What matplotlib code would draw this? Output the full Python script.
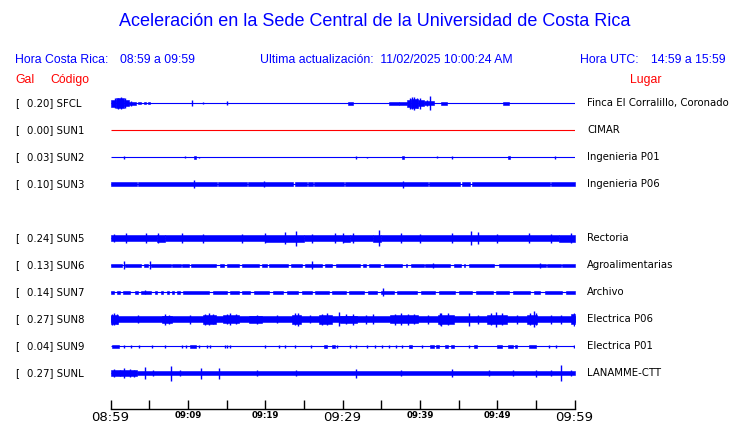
import matplotlib
matplotlib.use('Agg')
import matplotlib.pyplot as plt
from matplotlib.transforms import blended_transform_factory

# estaciones (fila 4 = SUN4 sin datos, queda vacia)
codes = ['SFCL', 'SUN1', 'SUN2', 'SUN3', 'SUN5', 'SUN6', 'SUN7', 'SUN8', 'SUN9', 'SUNL']
rows = [0, 1, 2, 3, 5, 6, 7, 8, 9, 10]
gal = [0.20, 0.00, 0.03, 0.10, 0.24, 0.13, 0.14, 0.27, 0.04, 0.27]
places = ['Finca El Corralillo, Coronado', 'CIMAR', 'Ingenieria P01', 'Ingenieria P06',
          'Rectoria', 'Agroalimentarias', 'Archivo', 'Electrica P06', 'Electrica P01',
          'LANAMME-CTT']

# tramos de señal: (minuto inicio, minuto fin, semi-amplitud)
segs = {
    'SFCL': [(0, 0.7, 3.5), (0.7, 1.7, 5), (1.7, 2.4, 3), (2.4, 3.3, 1.5), (3.5, 4.0, 1),
             (4.3, 4.6, 1), (4.8, 5.1, 1), (30.7, 31.3, 1.5), (36.0, 37.3, 1.2),
             (37.3, 38.4, 1.5), (38.4, 38.9, 3.5), (38.9, 39.8, 4.5), (39.8, 40.5, 3),
             (40.5, 41.8, 2), (42.7, 43.5, 1.5), (50.7, 51.5, 1.5)],
    'SUN1': [],
    'SUN2': [(10.8, 11.1, 1.5), (37.7, 38.0, 1.5), (51.4, 51.7, 1.2)],
    'SUN3': [(0, 3.45, 2), (3.6, 13.75, 2), (13.9, 17.65, 2), (17.8, 23.65, 2), (23.8, 25.45, 2),
             (25.6, 26.15, 2), (26.3, 30.15, 2), (30.3, 41.05, 2), (41.2, 45.25, 2),
             (45.4, 46.55, 2), (46.7, 56.85, 2), (57.0, 60, 2)],
    'SUN5': [(0, 6, 3), (6, 7, 3.5), (7, 20, 3), (20, 25, 3.5), (25, 30, 3), (30, 31, 3.5),
             (31, 34, 3), (34, 35, 3.5), (35, 58, 3), (58, 60, 3.5)],
    'SUN6': [(0, 1.5, 1.5), (1.9, 4.0, 1.5), (4.3, 4.9, 1.5), (5.3, 7.8, 1.5), (8.0, 9.1, 1.5),
             (9.3, 10.1, 1.5), (10.4, 13.6, 1.5), (14.2, 14.7, 1.5), (15.1, 16.6, 1.5),
             (17.0, 19.2, 1.5), (19.6, 20.3, 1.5), (20.5, 22.9, 1.5), (23.3, 24.8, 1.5),
             (25.2, 27.4, 1.5), (27.8, 28.7, 1.5), (29.1, 32.3, 1.5), (32.6, 33.0, 1.5),
             (33.4, 34.9, 1.5), (35.4, 37.7, 1.5), (38.2, 38.4, 1.5), (38.8, 40.5, 1.5),
             (40.7, 43.9, 1.5), (44.4, 45.3, 1.5), (45.7, 45.9, 1.5), (46.3, 49.6, 1.5),
             (50.2, 56.3, 1.5), (56.5, 58.2, 1.5), (58.4, 60, 1.5)],
    'SUN7': [(0, 0.5, 1.5), (0.9, 1.2, 1.5), (1.6, 2.5, 1.5), (3.2, 3.5, 1.5), (3.9, 5.2, 1.5),
             (5.8, 6.0, 1.5), (6.5, 6.8, 1.5), (7.3, 7.5, 1.5), (7.9, 8.2, 1.5), (8.6, 9.0, 1.5),
             (9.4, 12.8, 1.5), (13.2, 15.0, 1.5), (15.5, 16.6, 1.5), (17.0, 18.0, 1.5),
             (18.5, 20.5, 1.5), (21.0, 22.3, 1.5), (22.8, 24.2, 1.5), (24.7, 26.0, 1.5),
             (26.5, 28.2, 1.5), (28.7, 30.4, 1.5), (30.9, 32.8, 1.5), (33.3, 34.5, 1.5),
             (35.0, 36.6, 1.5), (37.1, 39.6, 1.5), (40.1, 42.0, 1.5), (42.5, 44.6, 1.5),
             (45.1, 46.7, 1.5), (47.2, 49.4, 1.5), (49.9, 51.5, 1.5), (52.0, 54.2, 1.5),
             (54.8, 55.6, 1.5), (56.2, 58.4, 1.5), (58.9, 60, 1.5)],
    'SUN8': [(0, 60, 3), (0, 1, 4.5), (6.7, 8.0, 3.8), (11.9, 13.6, 4.2), (14.5, 16.6, 4),
             (17.9, 19.6, 3.5), (23.5, 24.6, 4.5), (27.0, 28.7, 4.2), (29.7, 31.9, 3.8),
             (36.2, 39.7, 4), (42.3, 44.4, 4.5), (48.7, 51.3, 4.5), (53.8, 55.2, 4.8),
             (59.5, 60, 5)],
    'SUN9': [(0.2, 1.1, 1.5), (10.3, 11.0, 1.5), (27.6, 28.0, 1.5), (28.6, 29.0, 1.5),
             (38.6, 39.0, 1.5), (41.3, 41.8, 1.5), (42.1, 42.5, 1.5), (43.3, 43.7, 1.5),
             (44.0, 44.4, 1.5), (47.0, 47.4, 1.5), (50.0, 50.6, 1.5), (51.4, 52.0, 1.5),
             (52.3, 52.6, 1.5), (54.1, 55.0, 1.5)],
    'SUNL': [(0, 3.4, 3), (3.4, 60, 2)],
}

# picos aislados: (minuto, semi-amplitud)
spikes = {
    'SFCL': [(0.6, 5), (1.0, 5.5), (1.3, 6), (1.9, 5), (2.6, 2.5), (10.6, 3), (11.9, 1),
             (15.1, 2), (38.7, 5.5), (39.0, 6), (39.3, 6.5), (39.6, 5), (40.0, 5.5), (40.9, 3),
             (41.3, 7)],
    'SUN1': [],
    'SUN2': [(1.8, 1.5), (9.6, 1), (11.4, 0.7), (31.8, 1.5), (33.2, 0.7), (42.2, 1), (44.2, 1.5),
             (57.5, 1.5)],
    'SUN3': [(10.8, 4), (19.9, 3), (37.8, 3.5)],
    'SUN5': [(0.5, 4), (2, 5), (4.6, 5), (6.2, 5), (9.2, 5), (12, 4.5), (17, 4.5), (20, 5),
             (22.5, 6), (24, 7.5), (26, 4.5), (29, 5), (30, 5), (31.3, 5), (34.7, 8), (37.5, 5),
             (40, 4.5), (44.2, 5), (46.6, 7), (47.5, 6), (50, 4.5), (54.1, 5), (57, 4.5),
             (59.5, 5)],
    'SUN6': [(1.7, 4), (5.1, 4), (26.1, 4), (41.7, 2.5), (55.6, 2.5)],
    'SUN7': [(4.5, 2), (35.2, 4)],
    'SUN8': [(0.2, 5.5), (0.5, 6), (0.8, 5), (3.5, 4), (7.0, 5.5), (7.6, 4.5), (10.3, 4.5),
             (12.2, 5.5), (12.8, 6), (13.3, 5), (15.0, 5), (15.5, 6), (16.2, 5), (19.0, 4.5),
             (21.5, 4), (23.8, 6), (24.2, 6.5), (25.8, 4), (27.3, 5.5), (28.0, 6), (29.5, 7),
             (30.5, 5), (31.3, 5.5), (33.0, 4.5), (34.0, 5), (36.8, 5.5), (37.6, 6),
             (38.5, 5.5), (39.3, 5), (41.0, 4.5), (42.6, 6), (42.8, 6.5), (43.6, 6), (46.3, 6.5),
             (47.5, 4.5), (49.2, 6), (49.8, 7.5), (50.6, 6), (52.5, 4.5), (54.2, 6), (54.7, 8),
             (55.0, 6), (57.0, 4.5), (58.3, 4.5), (59.9, 6.5)],
    'SUN9': [(1.7, 1.5), (2.7, 1.5), (3.7, 1.5), (5.4, 1.5), (7.1, 1.5), (9.3, 1.5), (9.7, 1.5),
             (11.5, 1.5), (12.5, 1.5), (12.9, 1.5), (14.8, 1.5), (15.1, 1.5), (15.5, 1.5),
             (20, 1.5), (21.8, 1.5), (22.6, 1.5), (23.9, 1.5), (25.9, 1.5), (29.3, 1.5),
             (31.0, 1.5), (31.7, 1.5), (33.2, 1.5), (34.2, 1.5), (35.1, 1.5), (36.0, 1.5),
             (36.9, 1.5), (37.7, 1.5), (40.3, 1.5), (46.3, 1.5), (56.7, 1.5), (57.6, 1.5),
             (59.9, 1.5)],
    'SUNL': [(0.5, 4), (1.2, 3), (1.8, 5), (2.5, 4), (3.0, 3.5), (4.5, 6), (5.5, 3), (7.8, 7.5),
             (9, 3), (11.7, 5.5), (14, 5.5), (19, 3), (24, 3), (31.7, 4.5), (37.5, 3),
             (44.2, 4), (49, 3), (52, 3), (55, 3.5), (57, 3), (58.2, 8), (59.5, 3)],
}

tick_min = list(range(0, 61, 5))
tick_lab = ['08:59', '', '09:09', '', '09:19', '', '09:29', '', '09:39', '', '09:49', '', '09:59']
big_labels = ['08:59', '09:29', '09:59']

BLUE = '#0000ff'
RED = '#ff0000'
W, H = 740, 423
PX = 27.0  # pixeles por fila

fig = plt.figure(figsize=(W / 100, H / 100), dpi=100)
ax = fig.add_axes([110.5 / W, 1 - 409 / H, 464 / W, (409 - 89.8) / H])

for code, r in zip(codes, rows):
    col = RED if code == 'SUN1' else BLUE
    ax.hlines(r, 0, 60, color=col, lw=0.8)
    for a, b, h in segs[code]:
        ax.fill_between([a, b], r - h / PX, r + h / PX, color=col, lw=0.4)
    if spikes[code]:
        t = [s[0] for s in spikes[code]]
        amp = [s[1] / PX for s in spikes[code]]
        ax.vlines(t, [r - a for a in amp], [r + a for a in amp], color=col, lw=1.0)

ax.set_xlim(0, 60)
ax.set_ylim(11.32, -0.5)
for s in ['top', 'left', 'right']:
    ax.spines[s].set_visible(False)
ax.spines['bottom'].set_linewidth(1.0)
ax.set_yticks([])
ax.set_xticks(tick_min)
ax.set_xticklabels(tick_lab)
ax.tick_params(axis='x', direction='in', length=6.5, width=1.0, pad=1.5)
for lab in ax.get_xticklabels():
    if lab.get_text() in big_labels:
        lab.set_fontsize(9.5)
    else:
        lab.set_fontsize(6.2)
        lab.set_fontweight('bold')

# textos de cada estacion
tr = blended_transform_factory(fig.transFigure, ax.transData)
for code, r, g, p in zip(codes, rows, gal, places):
    ax.text(15 / W, r, '[', transform=tr, fontsize=7.3, va='center', ha='left')
    ax.text(27 / W, r, f'{g:.2f}] {code}', transform=tr, fontsize=7.3, va='center', ha='left')
    ax.text(587 / W, r, p, transform=tr, fontsize=7.3, va='center', ha='left')

# encabezado
hf = 'Liberation Sans'
fig.text(375 / W, 1 - 22 / H, 'Aceleración en la Sede Central de la Universidad de Costa Rica',
         color=BLUE, fontsize=13, family=hf, ha='center', va='center')
fig.text(15 / W, 1 - 60 / H, 'Hora Costa Rica:', color=BLUE, fontsize=8.8, family=hf, va='center')
fig.text(120 / W, 1 - 60 / H, '08:59 a 09:59', color=BLUE, fontsize=8.8, family=hf, va='center')
fig.text(260 / W, 1 - 60 / H, 'Ultima actualización:  11/02/2025 10:00:24 AM', color=BLUE,
         fontsize=8.8, family=hf, va='center')
fig.text(580 / W, 1 - 60 / H, 'Hora UTC:', color=BLUE, fontsize=8.8, family=hf, va='center')
fig.text(651 / W, 1 - 60 / H, '14:59 a 15:59', color=BLUE, fontsize=8.8, family=hf, va='center')
fig.text(15 / W, 1 - 80 / H, 'Gal', color=RED, fontsize=8.8, family=hf, va='center')
fig.text(50 / W, 1 - 80 / H, 'Código', color=RED, fontsize=8.8, family=hf, va='center')
fig.text(630 / W, 1 - 80 / H, 'Lugar', color=RED, fontsize=8.8, family=hf, va='center')

fig.savefig('out.png', dpi=100)
